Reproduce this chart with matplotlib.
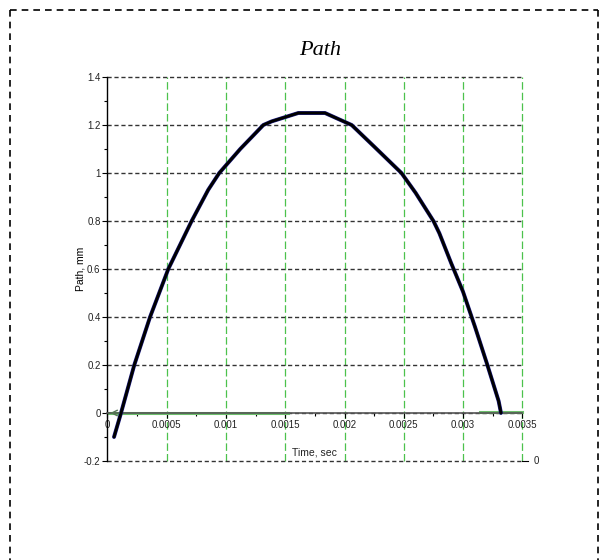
import numpy as np
import matplotlib
matplotlib.use('Agg')
import matplotlib.pyplot as plt
from matplotlib.lines import Line2D

plt.rcParams['font.family'] = ['Liberation Sans', 'DejaVu Sans']

# path curve
t_path = [0.000055, 0.000114, 0.000226, 0.000359, 0.000513, 0.00071, 0.00085,
          0.000943, 0.00112, 0.001315, 0.001385, 0.00161, 0.001835, 0.00206,
          0.00225, 0.00248, 0.0026, 0.00275, 0.0028, 0.0029, 0.003, 0.0031,
          0.0032, 0.0033, 0.00332]
y_path = [-0.10, 0.0, 0.2, 0.4, 0.6, 0.8, 0.93,
          1.0, 1.1, 1.2, 1.215, 1.25, 1.25, 1.2,
          1.11, 1.0, 0.917, 0.8, 0.749, 0.624, 0.505, 0.36,
          0.208, 0.05, 0.0]

# green series lying on zero
t_zero1 = [0.0, 0.00152]
y_zero1 = [0.002, 0.002]
t_zero2 = [0.00314, 0.0035]
y_zero2 = [0.006, 0.006]

x_ticks = [0, 0.0005, 0.001, 0.0015, 0.002, 0.0025, 0.003, 0.0035]
x_labels = ['0', '0.0005', '0.001', '0.0015', '0.002', '0.0025', '0.003', '0.0035']
y_ticks = [-0.2, 0, 0.2, 0.4, 0.6, 0.8, 1.0, 1.2, 1.4]
y_labels = ['-0.2', '0', '0.2', '0.4', '0.6', '0.8', '1', '1.2', '1.4']

fig = plt.figure(figsize=(6.07, 5.6), dpi=100)
ax = fig.add_axes([0.1771, 0.1768, 0.6834, 0.6857])

ax.set_xlim(0, 0.0035)
ax.set_ylim(-0.2, 1.4)

# grid
for x in x_ticks[1:]:
    ax.axvline(x, color='#4cc24c', lw=0.9, dashes=(6, 2.5), zorder=1,
               clip_on=False)
for y in y_ticks:
    ax.axhline(y, color='#333333', lw=1.0, dashes=(3, 2), zorder=1,
               clip_on=False)

# data
ax.plot(t_zero1, y_zero1, color='#6cbf6c', lw=2.2, zorder=2)
ax.plot(t_zero2, y_zero2, color='#6cbf6c', lw=2.2, zorder=2, clip_on=False)
ax.plot(t_path, y_path, color='#1a1a80', lw=2.8, zorder=3, solid_capstyle='round')
ax.plot(t_path, y_path, color='black', lw=2.0, zorder=4, solid_capstyle='round')
ax.annotate('', xy=(0.0, 0.0), xytext=(0.00012, 0.0),
            arrowprops=dict(arrowstyle='->', color='#557755', lw=1.0), zorder=5)

# axes
for s in ['top', 'right']:
    ax.spines[s].set_visible(False)
ax.spines['bottom'].set_position(('data', 0))
ax.spines['bottom'].set_color('#555555')
ax.spines['bottom'].set_linewidth(1.2)
ax.spines['left'].set_color('black')
ax.spines['left'].set_linewidth(1.0)

ax.set_xticks(x_ticks)
ax.set_xticklabels(x_labels)
ax.set_yticks(y_ticks)
ax.set_yticklabels(y_labels)
ax.set_xticks(np.arange(0, 0.0035 + 1e-9, 0.00025), minor=True)
ax.set_yticks(np.arange(-0.2, 1.4 + 1e-9, 0.1), minor=True)
ax.tick_params(axis='both', which='major', direction='out', length=3.5,
               width=0.8, labelsize=7, labelcolor='#222222', pad=1.5)
ax.tick_params(axis='both', which='minor', direction='out', length=2, width=0.8)

ax.set_ylabel('Path, mm', fontsize=7.5)
ax.yaxis.set_label_coords(-0.053, 0.5)
ax.text(0.00175, -0.163, 'Time, sec', fontsize=7.5, ha='center', va='center',
        color='#222222')

# right-side stray axis label
ax.add_line(Line2D([1.0, 1.013], [0, 0], transform=ax.transAxes, color='black',
                   lw=0.8, clip_on=False))
ax.text(1.028, 0, '0', transform=ax.transAxes, fontsize=7, ha='left',
        va='center', color='#222222')

fig.text(0.527, 0.91, 'Path', fontsize=16, ha='center', va='center',
         family='Liberation Serif', style='italic')

# dashed frame
W, H = 607.0, 560.0
xl, xr, yt = 10 / W, 598 / W, 1 - 10 / H
for xs, ys in [([xl, xr], [yt, yt]), ([xl, xl], [yt, 0]), ([xr, xr], [yt, 0])]:
    fig.add_artist(Line2D(xs, ys, transform=fig.transFigure, color='black',
                          lw=1.2, dashes=(4, 3)))

fig.savefig('out.png', dpi=100)
